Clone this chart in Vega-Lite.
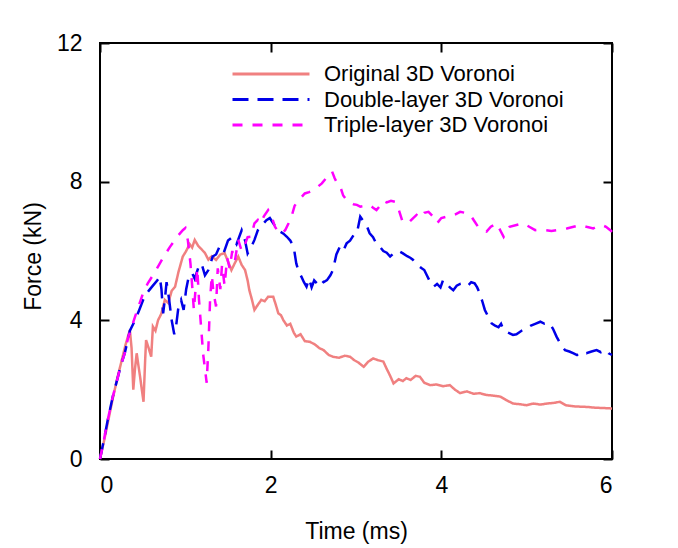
{
  "$schema": "https://vega.github.io/schema/vega-lite/v6.json",
  "width": 512,
  "height": 416,
  "autosize": {"type": "none"},
  "padding": {"left": 100, "top": 43, "right": 66, "bottom": 89},
  "background": "white",
  "config": {
    "view": {"stroke": "black", "strokeWidth": 2},
    "font": "Liberation Sans",
    "axis": {"grid": false, "domain": false, "tickColor": "black", "tickWidth": 2, "tickSize": -9, "labelFont": "Liberation Sans", "labelFontSize": 23, "labelColor": "black", "titleFont": "Liberation Sans", "titleFontSize": 23, "titleFontWeight": "normal", "titleColor": "black"}
  },
  "data": {"values": [
    {"s":"Original 3D Voronoi","t":0,"f":0},{"s":"Original 3D Voronoi","t":0.05,"f":0.55},{"s":"Original 3D Voronoi","t":0.1,"f":1.15},{"s":"Original 3D Voronoi","t":0.15,"f":1.75},{"s":"Original 3D Voronoi","t":0.2,"f":2.3},{"s":"Original 3D Voronoi","t":0.25,"f":2.8},{"s":"Original 3D Voronoi","t":0.3,"f":3.3},{"s":"Original 3D Voronoi","t":0.35,"f":3.72},{"s":"Original 3D Voronoi","t":0.37,"f":3.2},{"s":"Original 3D Voronoi","t":0.39,"f":2.0},{"s":"Original 3D Voronoi","t":0.41,"f":2.6},{"s":"Original 3D Voronoi","t":0.43,"f":3.05},{"s":"Original 3D Voronoi","t":0.45,"f":2.7},{"s":"Original 3D Voronoi","t":0.47,"f":2.37},{"s":"Original 3D Voronoi","t":0.49,"f":2.0},{"s":"Original 3D Voronoi","t":0.51,"f":1.65},{"s":"Original 3D Voronoi","t":0.53,"f":2.9},{"s":"Original 3D Voronoi","t":0.54,"f":3.43},{"s":"Original 3D Voronoi","t":0.57,"f":3.2},{"s":"Original 3D Voronoi","t":0.6,"f":2.95},{"s":"Original 3D Voronoi","t":0.62,"f":3.82},{"s":"Original 3D Voronoi","t":0.65,"f":3.7},{"s":"Original 3D Voronoi","t":0.68,"f":4.0},{"s":"Original 3D Voronoi","t":0.72,"f":4.2},{"s":"Original 3D Voronoi","t":0.76,"f":4.59},{"s":"Original 3D Voronoi","t":0.8,"f":4.5},{"s":"Original 3D Voronoi","t":0.84,"f":4.85},{"s":"Original 3D Voronoi","t":0.88,"f":4.97},{"s":"Original 3D Voronoi","t":0.92,"f":5.4},{"s":"Original 3D Voronoi","t":0.97,"f":5.84},{"s":"Original 3D Voronoi","t":1.01,"f":6.0},{"s":"Original 3D Voronoi","t":1.05,"f":6.2},{"s":"Original 3D Voronoi","t":1.08,"f":6.1},{"s":"Original 3D Voronoi","t":1.11,"f":6.32},{"s":"Original 3D Voronoi","t":1.15,"f":6.15},{"s":"Original 3D Voronoi","t":1.19,"f":6.05},{"s":"Original 3D Voronoi","t":1.23,"f":5.94},{"s":"Original 3D Voronoi","t":1.27,"f":5.75},{"s":"Original 3D Voronoi","t":1.31,"f":5.85},{"s":"Original 3D Voronoi","t":1.36,"f":5.74},{"s":"Original 3D Voronoi","t":1.41,"f":5.9},{"s":"Original 3D Voronoi","t":1.46,"f":5.94},{"s":"Original 3D Voronoi","t":1.5,"f":5.7},{"s":"Original 3D Voronoi","t":1.54,"f":5.45},{"s":"Original 3D Voronoi","t":1.58,"f":5.65},{"s":"Original 3D Voronoi","t":1.62,"f":5.84},{"s":"Original 3D Voronoi","t":1.66,"f":5.6},{"s":"Original 3D Voronoi","t":1.7,"f":5.45},{"s":"Original 3D Voronoi","t":1.73,"f":5.15},{"s":"Original 3D Voronoi","t":1.75,"f":4.87},{"s":"Original 3D Voronoi","t":1.78,"f":4.6},{"s":"Original 3D Voronoi","t":1.81,"f":4.3},{"s":"Original 3D Voronoi","t":1.85,"f":4.45},{"s":"Original 3D Voronoi","t":1.89,"f":4.59},{"s":"Original 3D Voronoi","t":1.93,"f":4.55},{"s":"Original 3D Voronoi","t":1.97,"f":4.68},{"s":"Original 3D Voronoi","t":2.03,"f":4.68},{"s":"Original 3D Voronoi","t":2.06,"f":4.45},{"s":"Original 3D Voronoi","t":2.09,"f":4.2},{"s":"Original 3D Voronoi","t":2.12,"f":4.15},{"s":"Original 3D Voronoi","t":2.15,"f":4.0},{"s":"Original 3D Voronoi","t":2.19,"f":3.85},{"s":"Original 3D Voronoi","t":2.23,"f":3.9},{"s":"Original 3D Voronoi","t":2.27,"f":3.65},{"s":"Original 3D Voronoi","t":2.3,"f":3.53},{"s":"Original 3D Voronoi","t":2.35,"f":3.6},{"s":"Original 3D Voronoi","t":2.4,"f":3.4},{"s":"Original 3D Voronoi","t":2.46,"f":3.38},{"s":"Original 3D Voronoi","t":2.52,"f":3.3},{"s":"Original 3D Voronoi","t":2.57,"f":3.2},{"s":"Original 3D Voronoi","t":2.62,"f":3.14},{"s":"Original 3D Voronoi","t":2.68,"f":3.0},{"s":"Original 3D Voronoi","t":2.73,"f":2.95},{"s":"Original 3D Voronoi","t":2.8,"f":2.92},{"s":"Original 3D Voronoi","t":2.87,"f":2.98},{"s":"Original 3D Voronoi","t":2.93,"f":2.95},{"s":"Original 3D Voronoi","t":2.98,"f":2.85},{"s":"Original 3D Voronoi","t":3.03,"f":2.78},{"s":"Original 3D Voronoi","t":3.09,"f":2.66},{"s":"Original 3D Voronoi","t":3.14,"f":2.8},{"s":"Original 3D Voronoi","t":3.2,"f":2.9},{"s":"Original 3D Voronoi","t":3.26,"f":2.85},{"s":"Original 3D Voronoi","t":3.32,"f":2.81},{"s":"Original 3D Voronoi","t":3.36,"f":2.6},{"s":"Original 3D Voronoi","t":3.4,"f":2.4},{"s":"Original 3D Voronoi","t":3.44,"f":2.18},{"s":"Original 3D Voronoi","t":3.5,"f":2.3},{"s":"Original 3D Voronoi","t":3.55,"f":2.25},{"s":"Original 3D Voronoi","t":3.59,"f":2.33},{"s":"Original 3D Voronoi","t":3.64,"f":2.28},{"s":"Original 3D Voronoi","t":3.7,"f":2.4},{"s":"Original 3D Voronoi","t":3.75,"f":2.37},{"s":"Original 3D Voronoi","t":3.8,"f":2.2},{"s":"Original 3D Voronoi","t":3.87,"f":2.13},{"s":"Original 3D Voronoi","t":3.94,"f":2.15},{"s":"Original 3D Voronoi","t":4.02,"f":2.1},{"s":"Original 3D Voronoi","t":4.1,"f":2.13},{"s":"Original 3D Voronoi","t":4.16,"f":2.0},{"s":"Original 3D Voronoi","t":4.22,"f":1.9},{"s":"Original 3D Voronoi","t":4.3,"f":1.95},{"s":"Original 3D Voronoi","t":4.38,"f":1.88},{"s":"Original 3D Voronoi","t":4.45,"f":1.9},{"s":"Original 3D Voronoi","t":4.52,"f":1.85},{"s":"Original 3D Voronoi","t":4.6,"f":1.83},{"s":"Original 3D Voronoi","t":4.69,"f":1.8},{"s":"Original 3D Voronoi","t":4.76,"f":1.7},{"s":"Original 3D Voronoi","t":4.84,"f":1.6},{"s":"Original 3D Voronoi","t":4.92,"f":1.58},{"s":"Original 3D Voronoi","t":5.0,"f":1.55},{"s":"Original 3D Voronoi","t":5.08,"f":1.6},{"s":"Original 3D Voronoi","t":5.16,"f":1.57},{"s":"Original 3D Voronoi","t":5.24,"f":1.6},{"s":"Original 3D Voronoi","t":5.32,"f":1.62},{"s":"Original 3D Voronoi","t":5.39,"f":1.65},{"s":"Original 3D Voronoi","t":5.46,"f":1.55},{"s":"Original 3D Voronoi","t":5.55,"f":1.52},{"s":"Original 3D Voronoi","t":5.63,"f":1.51},{"s":"Original 3D Voronoi","t":5.72,"f":1.5},{"s":"Original 3D Voronoi","t":5.8,"f":1.48},{"s":"Original 3D Voronoi","t":5.9,"f":1.47},{"s":"Original 3D Voronoi","t":5.98,"f":1.46},{"s":"Original 3D Voronoi","t":6.0,"f":1.45},

    {"s":"Double-layer 3D Voronoi","t":0,"f":0},{"s":"Double-layer 3D Voronoi","t":0.05,"f":0.6},{"s":"Double-layer 3D Voronoi","t":0.09,"f":1.12},{"s":"Double-layer 3D Voronoi","t":0.15,"f":1.8},{"s":"Double-layer 3D Voronoi","t":0.21,"f":2.37},{"s":"Double-layer 3D Voronoi","t":0.25,"f":2.75},{"s":"Double-layer 3D Voronoi","t":0.29,"f":3.05},{"s":"Double-layer 3D Voronoi","t":0.35,"f":3.7},{"s":"Double-layer 3D Voronoi","t":0.41,"f":4.0},{"s":"Double-layer 3D Voronoi","t":0.46,"f":4.3},{"s":"Double-layer 3D Voronoi","t":0.52,"f":4.68},{"s":"Double-layer 3D Voronoi","t":0.57,"f":4.85},{"s":"Double-layer 3D Voronoi","t":0.62,"f":5.0},{"s":"Double-layer 3D Voronoi","t":0.67,"f":5.15},{"s":"Double-layer 3D Voronoi","t":0.7,"f":5.26},{"s":"Double-layer 3D Voronoi","t":0.72,"f":4.9},{"s":"Double-layer 3D Voronoi","t":0.74,"f":4.2},{"s":"Double-layer 3D Voronoi","t":0.76,"f":4.6},{"s":"Double-layer 3D Voronoi","t":0.78,"f":5.1},{"s":"Double-layer 3D Voronoi","t":0.81,"f":4.6},{"s":"Double-layer 3D Voronoi","t":0.84,"f":4.0},{"s":"Double-layer 3D Voronoi","t":0.87,"f":3.6},{"s":"Double-layer 3D Voronoi","t":0.89,"f":3.8},{"s":"Double-layer 3D Voronoi","t":0.92,"f":4.4},{"s":"Double-layer 3D Voronoi","t":0.95,"f":4.59},{"s":"Double-layer 3D Voronoi","t":0.98,"f":4.3},{"s":"Double-layer 3D Voronoi","t":1.01,"f":4.9},{"s":"Double-layer 3D Voronoi","t":1.04,"f":5.26},{"s":"Double-layer 3D Voronoi","t":1.08,"f":5.36},{"s":"Double-layer 3D Voronoi","t":1.11,"f":5.2},{"s":"Double-layer 3D Voronoi","t":1.15,"f":5.5},{"s":"Double-layer 3D Voronoi","t":1.19,"f":5.64},{"s":"Double-layer 3D Voronoi","t":1.23,"f":5.3},{"s":"Double-layer 3D Voronoi","t":1.27,"f":5.45},{"s":"Double-layer 3D Voronoi","t":1.32,"f":5.84},{"s":"Double-layer 3D Voronoi","t":1.36,"f":5.9},{"s":"Double-layer 3D Voronoi","t":1.4,"f":6.12},{"s":"Double-layer 3D Voronoi","t":1.45,"f":5.95},{"s":"Double-layer 3D Voronoi","t":1.5,"f":6.3},{"s":"Double-layer 3D Voronoi","t":1.55,"f":6.4},{"s":"Double-layer 3D Voronoi","t":1.6,"f":6.2},{"s":"Double-layer 3D Voronoi","t":1.66,"f":6.6},{"s":"Double-layer 3D Voronoi","t":1.7,"f":6.3},{"s":"Double-layer 3D Voronoi","t":1.73,"f":5.93},{"s":"Double-layer 3D Voronoi","t":1.77,"f":6.1},{"s":"Double-layer 3D Voronoi","t":1.81,"f":6.32},{"s":"Double-layer 3D Voronoi","t":1.85,"f":6.6},{"s":"Double-layer 3D Voronoi","t":1.9,"f":6.75},{"s":"Double-layer 3D Voronoi","t":1.95,"f":6.89},{"s":"Double-layer 3D Voronoi","t":1.99,"f":6.95},{"s":"Double-layer 3D Voronoi","t":2.03,"f":6.8},{"s":"Double-layer 3D Voronoi","t":2.07,"f":6.65},{"s":"Double-layer 3D Voronoi","t":2.11,"f":6.56},{"s":"Double-layer 3D Voronoi","t":2.15,"f":6.5},{"s":"Double-layer 3D Voronoi","t":2.19,"f":6.41},{"s":"Double-layer 3D Voronoi","t":2.23,"f":6.3},{"s":"Double-layer 3D Voronoi","t":2.27,"f":6.12},{"s":"Double-layer 3D Voronoi","t":2.3,"f":5.64},{"s":"Double-layer 3D Voronoi","t":2.33,"f":5.4},{"s":"Double-layer 3D Voronoi","t":2.36,"f":5.26},{"s":"Double-layer 3D Voronoi","t":2.39,"f":5.1},{"s":"Double-layer 3D Voronoi","t":2.42,"f":4.97},{"s":"Double-layer 3D Voronoi","t":2.45,"f":5.2},{"s":"Double-layer 3D Voronoi","t":2.48,"f":4.95},{"s":"Double-layer 3D Voronoi","t":2.51,"f":5.15},{"s":"Double-layer 3D Voronoi","t":2.54,"f":5.07},{"s":"Double-layer 3D Voronoi","t":2.58,"f":5.2},{"s":"Double-layer 3D Voronoi","t":2.62,"f":5.1},{"s":"Double-layer 3D Voronoi","t":2.66,"f":5.16},{"s":"Double-layer 3D Voronoi","t":2.7,"f":5.3},{"s":"Double-layer 3D Voronoi","t":2.73,"f":5.45},{"s":"Double-layer 3D Voronoi","t":2.77,"f":5.9},{"s":"Double-layer 3D Voronoi","t":2.81,"f":6.12},{"s":"Double-layer 3D Voronoi","t":2.85,"f":6.0},{"s":"Double-layer 3D Voronoi","t":2.89,"f":6.22},{"s":"Double-layer 3D Voronoi","t":2.93,"f":6.3},{"s":"Double-layer 3D Voronoi","t":2.97,"f":6.45},{"s":"Double-layer 3D Voronoi","t":3.01,"f":6.51},{"s":"Double-layer 3D Voronoi","t":3.05,"f":6.99},{"s":"Double-layer 3D Voronoi","t":3.09,"f":6.85},{"s":"Double-layer 3D Voronoi","t":3.13,"f":6.7},{"s":"Double-layer 3D Voronoi","t":3.16,"f":6.51},{"s":"Double-layer 3D Voronoi","t":3.2,"f":6.4},{"s":"Double-layer 3D Voronoi","t":3.24,"f":6.2},{"s":"Double-layer 3D Voronoi","t":3.28,"f":6.12},{"s":"Double-layer 3D Voronoi","t":3.32,"f":6.0},{"s":"Double-layer 3D Voronoi","t":3.36,"f":5.95},{"s":"Double-layer 3D Voronoi","t":3.4,"f":5.84},{"s":"Double-layer 3D Voronoi","t":3.45,"f":5.95},{"s":"Double-layer 3D Voronoi","t":3.5,"f":6.0},{"s":"Double-layer 3D Voronoi","t":3.55,"f":5.93},{"s":"Double-layer 3D Voronoi","t":3.6,"f":5.85},{"s":"Double-layer 3D Voronoi","t":3.64,"f":5.8},{"s":"Double-layer 3D Voronoi","t":3.67,"f":5.74},{"s":"Double-layer 3D Voronoi","t":3.72,"f":5.6},{"s":"Double-layer 3D Voronoi","t":3.77,"f":5.5},{"s":"Double-layer 3D Voronoi","t":3.8,"f":5.45},{"s":"Double-layer 3D Voronoi","t":3.83,"f":5.3},{"s":"Double-layer 3D Voronoi","t":3.87,"f":5.1},{"s":"Double-layer 3D Voronoi","t":3.91,"f":4.97},{"s":"Double-layer 3D Voronoi","t":3.95,"f":5.05},{"s":"Double-layer 3D Voronoi","t":3.99,"f":4.95},{"s":"Double-layer 3D Voronoi","t":4.02,"f":5.16},{"s":"Double-layer 3D Voronoi","t":4.06,"f":5.07},{"s":"Double-layer 3D Voronoi","t":4.1,"f":4.95},{"s":"Double-layer 3D Voronoi","t":4.14,"f":4.87},{"s":"Double-layer 3D Voronoi","t":4.18,"f":5.0},{"s":"Double-layer 3D Voronoi","t":4.22,"f":5.05},{"s":"Double-layer 3D Voronoi","t":4.26,"f":5.07},{"s":"Double-layer 3D Voronoi","t":4.31,"f":5.0},{"s":"Double-layer 3D Voronoi","t":4.35,"f":5.1},{"s":"Double-layer 3D Voronoi","t":4.39,"f":5.07},{"s":"Double-layer 3D Voronoi","t":4.42,"f":4.95},{"s":"Double-layer 3D Voronoi","t":4.45,"f":4.78},{"s":"Double-layer 3D Voronoi","t":4.48,"f":4.55},{"s":"Double-layer 3D Voronoi","t":4.51,"f":4.3},{"s":"Double-layer 3D Voronoi","t":4.55,"f":4.1},{"s":"Double-layer 3D Voronoi","t":4.59,"f":3.91},{"s":"Double-layer 3D Voronoi","t":4.63,"f":3.85},{"s":"Double-layer 3D Voronoi","t":4.67,"f":3.8},{"s":"Double-layer 3D Voronoi","t":4.7,"f":3.9},{"s":"Double-layer 3D Voronoi","t":4.73,"f":3.72},{"s":"Double-layer 3D Voronoi","t":4.78,"f":3.65},{"s":"Double-layer 3D Voronoi","t":4.84,"f":3.58},{"s":"Double-layer 3D Voronoi","t":4.88,"f":3.6},{"s":"Double-layer 3D Voronoi","t":4.94,"f":3.7},{"s":"Double-layer 3D Voronoi","t":5.0,"f":3.77},{"s":"Double-layer 3D Voronoi","t":5.05,"f":3.85},{"s":"Double-layer 3D Voronoi","t":5.1,"f":3.9},{"s":"Double-layer 3D Voronoi","t":5.16,"f":3.96},{"s":"Double-layer 3D Voronoi","t":5.21,"f":3.9},{"s":"Double-layer 3D Voronoi","t":5.27,"f":3.91},{"s":"Double-layer 3D Voronoi","t":5.31,"f":3.75},{"s":"Double-layer 3D Voronoi","t":5.35,"f":3.53},{"s":"Double-layer 3D Voronoi","t":5.4,"f":3.3},{"s":"Double-layer 3D Voronoi","t":5.45,"f":3.14},{"s":"Double-layer 3D Voronoi","t":5.5,"f":3.1},{"s":"Double-layer 3D Voronoi","t":5.55,"f":3.05},{"s":"Double-layer 3D Voronoi","t":5.59,"f":3.0},{"s":"Double-layer 3D Voronoi","t":5.64,"f":3.08},{"s":"Double-layer 3D Voronoi","t":5.7,"f":3.05},{"s":"Double-layer 3D Voronoi","t":5.76,"f":3.1},{"s":"Double-layer 3D Voronoi","t":5.82,"f":3.14},{"s":"Double-layer 3D Voronoi","t":5.87,"f":3.08},{"s":"Double-layer 3D Voronoi","t":5.92,"f":3.15},{"s":"Double-layer 3D Voronoi","t":5.96,"f":3.05},{"s":"Double-layer 3D Voronoi","t":6.0,"f":3.0},

    {"s":"Triple-layer 3D Voronoi","t":0,"f":0},{"s":"Triple-layer 3D Voronoi","t":0.05,"f":0.6},{"s":"Triple-layer 3D Voronoi","t":0.09,"f":1.12},{"s":"Triple-layer 3D Voronoi","t":0.15,"f":1.8},{"s":"Triple-layer 3D Voronoi","t":0.21,"f":2.37},{"s":"Triple-layer 3D Voronoi","t":0.25,"f":2.75},{"s":"Triple-layer 3D Voronoi","t":0.29,"f":3.05},{"s":"Triple-layer 3D Voronoi","t":0.33,"f":3.5},{"s":"Triple-layer 3D Voronoi","t":0.37,"f":3.8},{"s":"Triple-layer 3D Voronoi","t":0.41,"f":4.1},{"s":"Triple-layer 3D Voronoi","t":0.45,"f":4.39},{"s":"Triple-layer 3D Voronoi","t":0.5,"f":4.75},{"s":"Triple-layer 3D Voronoi","t":0.56,"f":5.07},{"s":"Triple-layer 3D Voronoi","t":0.62,"f":5.3},{"s":"Triple-layer 3D Voronoi","t":0.68,"f":5.55},{"s":"Triple-layer 3D Voronoi","t":0.75,"f":5.85},{"s":"Triple-layer 3D Voronoi","t":0.82,"f":6.12},{"s":"Triple-layer 3D Voronoi","t":0.9,"f":6.4},{"s":"Triple-layer 3D Voronoi","t":0.97,"f":6.6},{"s":"Triple-layer 3D Voronoi","t":1.0,"f":6.66},{"s":"Triple-layer 3D Voronoi","t":1.03,"f":6.3},{"s":"Triple-layer 3D Voronoi","t":1.06,"f":5.64},{"s":"Triple-layer 3D Voronoi","t":1.08,"f":5.0},{"s":"Triple-layer 3D Voronoi","t":1.1,"f":4.3},{"s":"Triple-layer 3D Voronoi","t":1.12,"f":4.9},{"s":"Triple-layer 3D Voronoi","t":1.14,"f":5.5},{"s":"Triple-layer 3D Voronoi","t":1.16,"f":4.6},{"s":"Triple-layer 3D Voronoi","t":1.19,"f":3.63},{"s":"Triple-layer 3D Voronoi","t":1.21,"f":3.0},{"s":"Triple-layer 3D Voronoi","t":1.23,"f":2.6},{"s":"Triple-layer 3D Voronoi","t":1.25,"f":2.2},{"s":"Triple-layer 3D Voronoi","t":1.27,"f":3.2},{"s":"Triple-layer 3D Voronoi","t":1.29,"f":4.6},{"s":"Triple-layer 3D Voronoi","t":1.31,"f":5.3},{"s":"Triple-layer 3D Voronoi","t":1.33,"f":4.8},{"s":"Triple-layer 3D Voronoi","t":1.36,"f":4.4},{"s":"Triple-layer 3D Voronoi","t":1.38,"f":5.5},{"s":"Triple-layer 3D Voronoi","t":1.41,"f":4.9},{"s":"Triple-layer 3D Voronoi","t":1.43,"f":5.6},{"s":"Triple-layer 3D Voronoi","t":1.46,"f":5.0},{"s":"Triple-layer 3D Voronoi","t":1.49,"f":5.8},{"s":"Triple-layer 3D Voronoi","t":1.52,"f":5.5},{"s":"Triple-layer 3D Voronoi","t":1.55,"f":6.0},{"s":"Triple-layer 3D Voronoi","t":1.58,"f":5.7},{"s":"Triple-layer 3D Voronoi","t":1.62,"f":6.32},{"s":"Triple-layer 3D Voronoi","t":1.66,"f":6.0},{"s":"Triple-layer 3D Voronoi","t":1.7,"f":6.2},{"s":"Triple-layer 3D Voronoi","t":1.73,"f":6.4},{"s":"Triple-layer 3D Voronoi","t":1.77,"f":6.41},{"s":"Triple-layer 3D Voronoi","t":1.81,"f":6.8},{"s":"Triple-layer 3D Voronoi","t":1.85,"f":6.9},{"s":"Triple-layer 3D Voronoi","t":1.88,"f":6.8},{"s":"Triple-layer 3D Voronoi","t":1.92,"f":7.0},{"s":"Triple-layer 3D Voronoi","t":1.97,"f":7.18},{"s":"Triple-layer 3D Voronoi","t":2.01,"f":7.0},{"s":"Triple-layer 3D Voronoi","t":2.05,"f":6.7},{"s":"Triple-layer 3D Voronoi","t":2.09,"f":6.55},{"s":"Triple-layer 3D Voronoi","t":2.13,"f":6.5},{"s":"Triple-layer 3D Voronoi","t":2.17,"f":6.6},{"s":"Triple-layer 3D Voronoi","t":2.21,"f":6.8},{"s":"Triple-layer 3D Voronoi","t":2.25,"f":7.04},{"s":"Triple-layer 3D Voronoi","t":2.28,"f":7.3},{"s":"Triple-layer 3D Voronoi","t":2.32,"f":7.45},{"s":"Triple-layer 3D Voronoi","t":2.36,"f":7.55},{"s":"Triple-layer 3D Voronoi","t":2.4,"f":7.66},{"s":"Triple-layer 3D Voronoi","t":2.45,"f":7.7},{"s":"Triple-layer 3D Voronoi","t":2.5,"f":7.76},{"s":"Triple-layer 3D Voronoi","t":2.55,"f":7.85},{"s":"Triple-layer 3D Voronoi","t":2.6,"f":7.95},{"s":"Triple-layer 3D Voronoi","t":2.65,"f":8.1},{"s":"Triple-layer 3D Voronoi","t":2.69,"f":8.2},{"s":"Triple-layer 3D Voronoi","t":2.72,"f":8.29},{"s":"Triple-layer 3D Voronoi","t":2.75,"f":8.1},{"s":"Triple-layer 3D Voronoi","t":2.78,"f":7.95},{"s":"Triple-layer 3D Voronoi","t":2.81,"f":7.9},{"s":"Triple-layer 3D Voronoi","t":2.85,"f":7.6},{"s":"Triple-layer 3D Voronoi","t":2.89,"f":7.47},{"s":"Triple-layer 3D Voronoi","t":2.93,"f":7.4},{"s":"Triple-layer 3D Voronoi","t":2.97,"f":7.35},{"s":"Triple-layer 3D Voronoi","t":3.01,"f":7.33},{"s":"Triple-layer 3D Voronoi","t":3.05,"f":7.28},{"s":"Triple-layer 3D Voronoi","t":3.1,"f":7.3},{"s":"Triple-layer 3D Voronoi","t":3.16,"f":7.33},{"s":"Triple-layer 3D Voronoi","t":3.2,"f":7.25},{"s":"Triple-layer 3D Voronoi","t":3.24,"f":7.18},{"s":"Triple-layer 3D Voronoi","t":3.28,"f":7.3},{"s":"Triple-layer 3D Voronoi","t":3.32,"f":7.45},{"s":"Triple-layer 3D Voronoi","t":3.36,"f":7.4},{"s":"Triple-layer 3D Voronoi","t":3.41,"f":7.45},{"s":"Triple-layer 3D Voronoi","t":3.46,"f":7.42},{"s":"Triple-layer 3D Voronoi","t":3.5,"f":7.2},{"s":"Triple-layer 3D Voronoi","t":3.54,"f":6.89},{"s":"Triple-layer 3D Voronoi","t":3.58,"f":6.95},{"s":"Triple-layer 3D Voronoi","t":3.63,"f":6.85},{"s":"Triple-layer 3D Voronoi","t":3.67,"f":6.95},{"s":"Triple-layer 3D Voronoi","t":3.71,"f":7.04},{"s":"Triple-layer 3D Voronoi","t":3.75,"f":6.95},{"s":"Triple-layer 3D Voronoi","t":3.8,"f":7.1},{"s":"Triple-layer 3D Voronoi","t":3.85,"f":7.13},{"s":"Triple-layer 3D Voronoi","t":3.9,"f":7.0},{"s":"Triple-layer 3D Voronoi","t":3.95,"f":6.8},{"s":"Triple-layer 3D Voronoi","t":4.0,"f":6.95},{"s":"Triple-layer 3D Voronoi","t":4.06,"f":6.99},{"s":"Triple-layer 3D Voronoi","t":4.1,"f":6.99},{"s":"Triple-layer 3D Voronoi","t":4.16,"f":7.05},{"s":"Triple-layer 3D Voronoi","t":4.22,"f":7.13},{"s":"Triple-layer 3D Voronoi","t":4.28,"f":7.1},{"s":"Triple-layer 3D Voronoi","t":4.34,"f":7.04},{"s":"Triple-layer 3D Voronoi","t":4.39,"f":6.85},{"s":"Triple-layer 3D Voronoi","t":4.43,"f":6.7},{"s":"Triple-layer 3D Voronoi","t":4.48,"f":6.6},{"s":"Triple-layer 3D Voronoi","t":4.53,"f":6.56},{"s":"Triple-layer 3D Voronoi","t":4.58,"f":6.7},{"s":"Triple-layer 3D Voronoi","t":4.65,"f":6.8},{"s":"Triple-layer 3D Voronoi","t":4.69,"f":6.6},{"s":"Triple-layer 3D Voronoi","t":4.73,"f":6.41},{"s":"Triple-layer 3D Voronoi","t":4.77,"f":6.6},{"s":"Triple-layer 3D Voronoi","t":4.8,"f":6.7},{"s":"Triple-layer 3D Voronoi","t":4.88,"f":6.75},{"s":"Triple-layer 3D Voronoi","t":4.96,"f":6.8},{"s":"Triple-layer 3D Voronoi","t":5.03,"f":6.7},{"s":"Triple-layer 3D Voronoi","t":5.1,"f":6.6},{"s":"Triple-layer 3D Voronoi","t":5.17,"f":6.62},{"s":"Triple-layer 3D Voronoi","t":5.23,"f":6.6},{"s":"Triple-layer 3D Voronoi","t":5.29,"f":6.58},{"s":"Triple-layer 3D Voronoi","t":5.35,"f":6.6},{"s":"Triple-layer 3D Voronoi","t":5.41,"f":6.62},{"s":"Triple-layer 3D Voronoi","t":5.47,"f":6.65},{"s":"Triple-layer 3D Voronoi","t":5.55,"f":6.7},{"s":"Triple-layer 3D Voronoi","t":5.63,"f":6.75},{"s":"Triple-layer 3D Voronoi","t":5.7,"f":6.7},{"s":"Triple-layer 3D Voronoi","t":5.78,"f":6.65},{"s":"Triple-layer 3D Voronoi","t":5.83,"f":6.72},{"s":"Triple-layer 3D Voronoi","t":5.88,"f":6.75},{"s":"Triple-layer 3D Voronoi","t":5.93,"f":6.7},{"s":"Triple-layer 3D Voronoi","t":5.98,"f":6.6},{"s":"Triple-layer 3D Voronoi","t":6.0,"f":6.55}
  ]},
  "layer": [
    {
      "mark": {"type": "line", "strokeWidth": 2.5},
      "encoding": {
        "x": {"field": "t", "type": "quantitative", "scale": {"domain": [0, 6], "nice": false},
              "axis": {"orient": "bottom", "values": [0, 2, 4, 6], "title": "Time (ms)", "labelPadding": 24, "titleBaseline": "alphabetic", "titleY": 79}},
        "y": {"field": "f", "type": "quantitative", "scale": {"domain": [0, 12], "nice": false},
              "axis": {"orient": "left", "values": [0, 4, 8, 12], "title": "Force (kN)", "labelPadding": 27, "titleBaseline": "alphabetic", "titleX": -60, "titleY": 213}},
        "color": {"field": "s", "type": "nominal",
                  "scale": {"domain": ["Original 3D Voronoi", "Double-layer 3D Voronoi", "Triple-layer 3D Voronoi"], "range": ["#f08080", "#0000e8", "#ff00ff"]},
                  "legend": {"orient": "none", "legendX": 131, "legendY": 19, "title": null, "symbolType": "stroke", "symbolSize": 5929, "symbolStrokeWidth": 3, "clipHeight": 24, "labelFontSize": 22, "labelFont": "Liberation Sans", "labelColor": "black", "labelOffset": 13, "labelLimit": 0, "rowPadding": 1.5}},
        "strokeDash": {"field": "s", "type": "nominal",
                  "scale": {"domain": ["Original 3D Voronoi", "Double-layer 3D Voronoi", "Triple-layer 3D Voronoi"], "range": [[1, 0], [16, 9], [10, 10]]},
                  "legend": {"orient": "none", "legendX": 131, "legendY": 19, "title": null, "symbolType": "stroke", "symbolSize": 5929, "symbolStrokeWidth": 3, "clipHeight": 24, "labelFontSize": 22, "labelFont": "Liberation Sans", "labelColor": "black", "labelOffset": 13, "labelLimit": 0, "rowPadding": 1.5}},
        "order": {"field": "t", "type": "quantitative"}
      }
    },
    {
      "mark": {"type": "point", "opacity": 0},
      "encoding": {
        "x": {"field": "t", "type": "quantitative", "axis": {"orient": "top", "values": [0, 2, 4, 6], "labels": false, "title": null}},
        "y": {"field": "f", "type": "quantitative", "axis": {"orient": "right", "values": [0, 4, 8, 12], "labels": false, "title": null}}
      }
    }
  ],
  "resolve": {"axis": {"x": "independent", "y": "independent"}}
}
